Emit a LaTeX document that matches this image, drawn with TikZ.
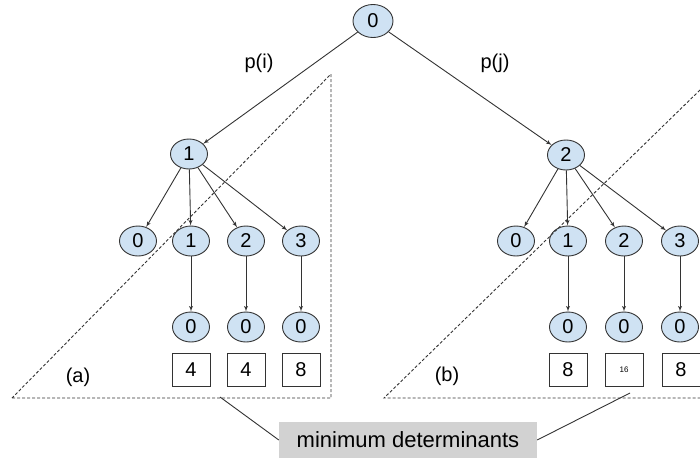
\documentclass[tikz,border=0pt]{standalone}
\usepackage{fontspec}
\setmainfont{Liberation Sans}
\usetikzlibrary{arrows,shapes.geometric}

\definecolor{nodeblue}{HTML}{CFE2F3}
\definecolor{linegray}{HTML}{333333}

\begin{document}
\begin{tikzpicture}[x=1pt,y=-1pt]
        \tikzset{vertex/.style = {shape=ellipse,draw=linegray,fill=nodeblue,inner sep=0pt,line width=0.9pt,
                minimum width=37pt,minimum height=30pt,font=\fontsize{20}{20}\selectfont}}
        \tikzset{det/.style = {shape=rectangle,draw=linegray,fill=white,inner sep=0pt,line width=0.8pt,
                minimum width=38pt,minimum height=33pt,font=\fontsize{20}{20}\selectfont}}
        \tikzset{edge/.style = {->,> = latex',draw=linegray,line width=0.9pt}}
        \tikzset{region/.style = {draw=linegray,line width=0.9pt,dash pattern=on 3pt off 2pt}}
        \tikzset{caption/.style = {font=\fontsize{20}{20}\selectfont}}

        \useasboundingbox (0,0) rectangle (700,459);

        % vertices
        \node[vertex, minimum width=40pt, minimum height=33pt] (r) at (373,21) {0};
        \node[vertex] (a) at (189,154) {1};
        \node[vertex] (b) at (566,155) {2};

        \foreach \i/\x in {0/138,1/191,2/246,3/301}
            \node[vertex] (a-\i) at (\x,241) {\i};
        \foreach \i/\x in {0/516,1/568,2/624,3/680}
            \node[vertex] (b-\i) at (\x,241) {\i};

        \foreach \i/\x in {1/191,2/246,3/301}
            \node[vertex] (a-\i-0) at (\x,327) {0};
        \foreach \i/\x in {1/568,2/624,3/680}
            \node[vertex] (b-\i-0) at (\x,327) {0};

        % determinants
        \foreach \i/\x/\v in {1/191/4,2/246/4,3/301/8}
            \node[det] (a-\i-d) at (\x,370) {\v};
        \node[det] (b-1-d) at (568,370) {8};
        \node[det, font=\fontsize{8}{8}\selectfont] (b-2-d) at (624,370) {16};
        \node[det] (b-3-d) at (681,370) {8};

        % labels
        \node[caption] (pi) at (259,63) {p(i)};
        \node[caption] (pj) at (495,63) {p(j)};
        \node[caption] (la) at (78,377) {(a)};
        \node[caption] (lb) at (447,376) {(b)};

        % regions
        \draw[region] (12,398) -- (331,398) -- (331,74) -- cycle;
        \draw[region] (700,90) -- (384,398) -- (700,398);

        %edges
        \draw[edge] (r) to (a);
        \draw[edge] (r) to (b);
        \foreach \i in {0,...,3}
            \draw[edge] (a) to (a-\i);
        \foreach \i in {0,...,3}
            \draw[edge] (b) to (b-\i);
        \foreach \i in {1,2,3}
            \draw[edge] (a-\i) to (a-\i-0);
        \foreach \i in {1,2,3}
            \draw[edge] (b-\i) to (b-\i-0);

        % note
        \node[caption, font=\fontsize{22}{22}\selectfont, fill=gray!35, minimum width=258pt, minimum height=36pt] (md) at (408,440)
            {minimum determinants};
        \coordinate (a-foot) at (220,397);
        \coordinate (b-foot) at (630,393);
        \draw[linegray, line width=0.9pt] (a-foot) -- (md.west);
        \draw[linegray, line width=0.9pt] (md.east) -- (b-foot);

    \end{tikzpicture}
\end{document}
